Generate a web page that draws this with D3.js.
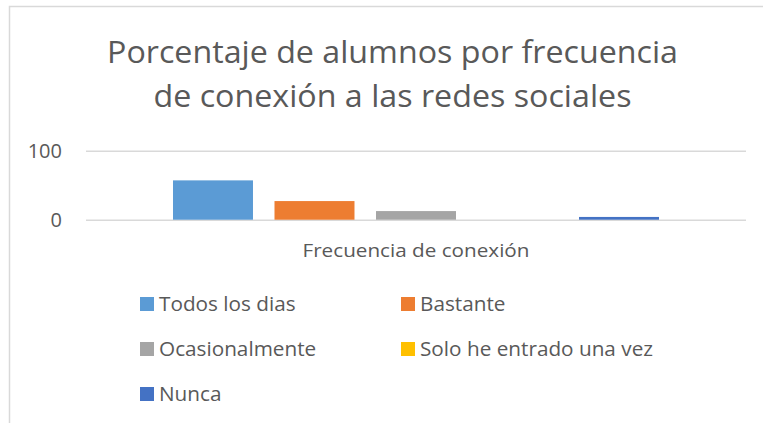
<!DOCTYPE html>
<html>
<head>
<meta charset="utf-8">
<script src="https://cdn.jsdelivr.net/npm/d3@7"></script>
<style>
  html, body { margin: 0; padding: 0; background: #fff; }
  svg { display: block; }
  text { font-family: "Open Sans", "Liberation Sans", sans-serif; fill: #595959; }
</style>
</head>
<body>
<svg id="chart" width="763" height="423"></svg>
<script>
// ---- data ----
const titleLines = ["Porcentaje de alumnos por frecuencia", "de conexión a las redes sociales"];
const categories = ["Frecuencia de conexión"];
const seriesNames = ["Todos los dias", "Bastante", "Ocasionalmente", "Solo he entrado una vez", "Nunca"];
const seriesValues = [57, 27, 12.5, 0, 4];
const seriesColors = ["#5B9BD5", "#ED7D31", "#A5A5A5", "#FFC000", "#4472C4"];
const yTicks = [0, 100];

// ---- layout ----
const svg = d3.select("#chart");
const W = 763, H = 423;
const plot = { left: 86, right: 746, top: 150.7, bottom: 219.7 };

// chart frame
svg.append("rect")
  .attr("x", 9.5).attr("y", 6.5)
  .attr("width", W + 20).attr("height", H + 20)
  .attr("fill", "#fff").attr("stroke", "#d9d9d9").attr("stroke-width", 1.5);

// helper to fit text to a given width
function fitWidth(sel, target) {
  sel.attr("textLength", target).attr("lengthAdjust", "spacingAndGlyphs");
}

// title
const titleBaselines = [63, 107];
const titleWidths = [571, 478];
titleLines.forEach((t, i) => {
  const txt = svg.append("text")
    .attr("x", 392.5).attr("y", titleBaselines[i])
    .attr("text-anchor", "middle")
    .attr("font-size", 31.5)
    .text(t);
  fitWidth(txt, titleWidths[i]);
});

// scales
const y = d3.scaleLinear().domain([0, 100]).range([plot.bottom, plot.top]);
const x0 = d3.scaleBand().domain(categories).range([plot.left, plot.right])
  .paddingInner(0).paddingOuter(0.179);
const x1 = d3.scaleBand().domain(seriesNames).range([0, x0.bandwidth()])
  .paddingInner(0.212).paddingOuter(0);

// gridlines
const yAxis = d3.axisLeft(y).tickValues(yTicks)
  .tickSize(-(plot.right - plot.left)).tickPadding(24).tickFormat(d3.format("d"));
const gy = svg.append("g").attr("transform", `translate(${plot.left},0)`).call(yAxis);
gy.select(".domain").remove();
gy.selectAll(".tick line").attr("stroke", "#d9d9d9").attr("stroke-width", 1.6);
gy.selectAll(".tick text")
  .attr("font-size", 20).attr("fill", "#595959")
  .style("font-family", '"Open Sans", sans-serif');

// bars
const groups = svg.append("g").selectAll("g")
  .data(categories).join("g")
  .attr("transform", d => `translate(${x0(d)},0)`);
groups.selectAll("rect")
  .data(() => seriesNames.map((n, i) => ({ name: n, value: seriesValues[i], color: seriesColors[i] })))
  .join("rect")
  .attr("x", d => x1(d.name))
  .attr("y", d => y(d.value))
  .attr("width", x1.bandwidth())
  .attr("height", d => y(0) - y(d.value))
  .attr("fill", d => d.color);

// category axis label
categories.forEach(c => {
  const t = svg.append("text")
    .attr("x", x0(c) + x0.bandwidth() / 2).attr("y", 257)
    .attr("text-anchor", "middle")
    .attr("font-size", 19)
    .text(c);
  fitWidth(t, 227);
});

// legend
const legendCols = [140, 401];
const legendRowTop = [297, 342, 387];
const legendItems = svg.append("g").selectAll("g")
  .data(seriesNames.map((n, i) => ({ name: n, color: seriesColors[i], i })))
  .join("g")
  .attr("transform", d => `translate(${legendCols[d.i % 2]},${legendRowTop[Math.floor(d.i / 2)]})`);
legendItems.append("rect")
  .attr("width", 14).attr("height", 14)
  .attr("fill", d => d.color);
const ltexts = legendItems.append("text")
  .attr("x", 19).attr("y", 13.5)
  .attr("font-size", 20)
  .text(d => d.name);
// uniform horizontal compression so "Solo he entrado una vez" spans 233px
const refNode = ltexts.filter(d => d.i === 3).node();
const factor = 233 / refNode.getComputedTextLength();
ltexts.each(function() {
  const w = this.getComputedTextLength();
  d3.select(this).attr("textLength", w * factor).attr("lengthAdjust", "spacingAndGlyphs");
});
</script>
</body>
</html>
